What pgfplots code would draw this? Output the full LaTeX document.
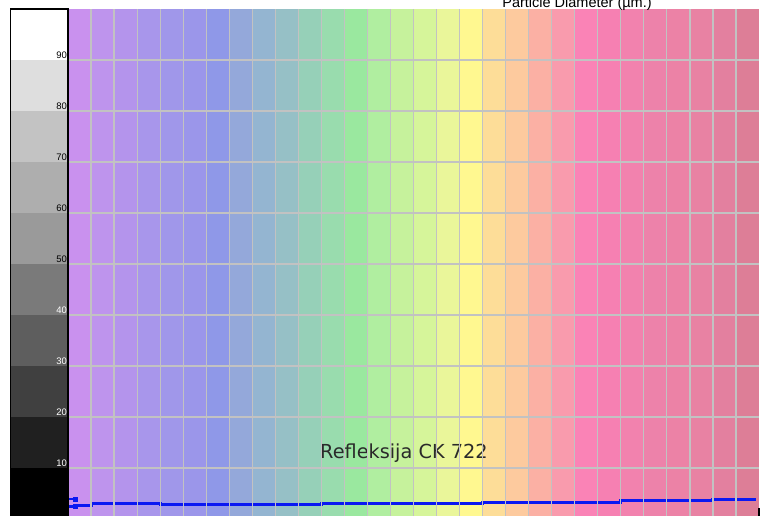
\documentclass[border=0pt]{standalone}
\usepackage{pgfplots}
\pgfplotsset{compat=1.18}
\usepackage{fontspec}
\setmainfont{Liberation Sans}
\newfontfamily\dejavu{DejaVu Sans}
\definecolor{s1}{HTML}{C991EE}
\definecolor{s2}{HTML}{BE94ED}
\definecolor{s3}{HTML}{B494EC}
\definecolor{s4}{HTML}{A896EB}
\definecolor{s5}{HTML}{A097EA}
\definecolor{s6}{HTML}{9B96EA}
\definecolor{s7}{HTML}{8F98E8}
\definecolor{s8}{HTML}{94A8DA}
\definecolor{s9}{HTML}{94B5D1}
\definecolor{s10}{HTML}{96C0C6}
\definecolor{s11}{HTML}{96D0B8}
\definecolor{s12}{HTML}{99DCAE}
\definecolor{s13}{HTML}{9AE89F}
\definecolor{s14}{HTML}{B0EEA0}
\definecolor{s15}{HTML}{C6F29C}
\definecolor{s16}{HTML}{D6F59A}
\definecolor{s17}{HTML}{EAF69A}
\definecolor{s18}{HTML}{FFF890}
\definecolor{s19}{HTML}{FDDD98}
\definecolor{s20}{HTML}{FDCA9E}
\definecolor{s21}{HTML}{FBB0A4}
\definecolor{s22}{HTML}{F99BAD}
\definecolor{s23}{HTML}{FA83B6}
\definecolor{s24}{HTML}{F680B2}
\definecolor{s25}{HTML}{F282AE}
\definecolor{s26}{HTML}{ED82AA}
\definecolor{s27}{HTML}{EC82A6}
\definecolor{s28}{HTML}{E882A3}
\definecolor{s29}{HTML}{E3809F}
\definecolor{s30}{HTML}{DD7E97}
\definecolor{g1}{HTML}{000000}
\definecolor{g2}{HTML}{202020}
\definecolor{g3}{HTML}{404040}
\definecolor{g4}{HTML}{5E5E5E}
\definecolor{g5}{HTML}{7A7A7A}
\definecolor{g6}{HTML}{9A9A9A}
\definecolor{g7}{HTML}{AEAEAE}
\definecolor{g8}{HTML}{C3C3C3}
\definecolor{g9}{HTML}{DEDEDE}
\definecolor{g10}{HTML}{FFFFFF}
\definecolor{gridc}{HTML}{C2C2C2}
\definecolor{lineblue}{HTML}{0A18F2}
\definecolor{txt}{HTML}{2A2A2A}
\begin{document}
\begin{tikzpicture}
% grey scale box
\begin{axis}[at={(10.5pt,-519pt)}, anchor=south west, scale only axis,
  width=57.5pt, height=510pt, xmin=0, xmax=1, ymin=0, ymax=100,
  ticks=none, axis on top, axis line style={black, line width=1.3pt}]
\fill[g1] (axis cs:0,0) rectangle (axis cs:1,10);
\fill[g2] (axis cs:0,10) rectangle (axis cs:1,20);
\fill[g3] (axis cs:0,20) rectangle (axis cs:1,30);
\fill[g4] (axis cs:0,30) rectangle (axis cs:1,40);
\fill[g5] (axis cs:0,40) rectangle (axis cs:1,50);
\fill[g6] (axis cs:0,50) rectangle (axis cs:1,60);
\fill[g7] (axis cs:0,60) rectangle (axis cs:1,70);
\fill[g8] (axis cs:0,70) rectangle (axis cs:1,80);
\fill[g9] (axis cs:0,80) rectangle (axis cs:1,90);
\fill[g10] (axis cs:0,90) rectangle (axis cs:1,100);
\end{axis}
% main plot
\begin{axis}[at={(68pt,-519pt)}, anchor=south west, scale only axis,
  width=691pt, height=510pt, xmin=0, xmax=30, ymin=0, ymax=100,
  axis on top, axis lines*=left, axis line style={black, line width=1.3pt},
  tick align=inside,
  xtick={0,10,20,30}, minor xtick={5,15,25}, xticklabels={},
  major tick length=11pt, minor tick length=6pt,
  x tick style={black, line width=1.1pt},
  extra x ticks={1,2,...,29}, extra x tick labels={},
  extra x tick style={grid=major, major tick length=0pt, tick style={draw=none}},
  ytick={10,20,...,90},
  yticklabels={\textcolor{white}{10},\textcolor{white}{20},\textcolor{white}{30},\textcolor{white}{40},50,60,70,80,90},
  y tick style={draw=none},
  yticklabel style={anchor=south east, inner sep=0.8pt, font=\fontsize{9.5}{9.5}\selectfont},
  ymajorgrids,
  major grid style={gridc, line width=1.2pt},
  clip=false]
\fill[s1] (axis cs:0,0) rectangle (axis cs:1,100);
\fill[s2] (axis cs:1,0) rectangle (axis cs:2,100);
\fill[s3] (axis cs:2,0) rectangle (axis cs:3,100);
\fill[s4] (axis cs:3,0) rectangle (axis cs:4,100);
\fill[s5] (axis cs:4,0) rectangle (axis cs:5,100);
\fill[s6] (axis cs:5,0) rectangle (axis cs:6,100);
\fill[s7] (axis cs:6,0) rectangle (axis cs:7,100);
\fill[s8] (axis cs:7,0) rectangle (axis cs:8,100);
\fill[s9] (axis cs:8,0) rectangle (axis cs:9,100);
\fill[s10] (axis cs:9,0) rectangle (axis cs:10,100);
\fill[s11] (axis cs:10,0) rectangle (axis cs:11,100);
\fill[s12] (axis cs:11,0) rectangle (axis cs:12,100);
\fill[s13] (axis cs:12,0) rectangle (axis cs:13,100);
\fill[s14] (axis cs:13,0) rectangle (axis cs:14,100);
\fill[s15] (axis cs:14,0) rectangle (axis cs:15,100);
\fill[s16] (axis cs:15,0) rectangle (axis cs:16,100);
\fill[s17] (axis cs:16,0) rectangle (axis cs:17,100);
\fill[s18] (axis cs:17,0) rectangle (axis cs:18,100);
\fill[s19] (axis cs:18,0) rectangle (axis cs:19,100);
\fill[s20] (axis cs:19,0) rectangle (axis cs:20,100);
\fill[s21] (axis cs:20,0) rectangle (axis cs:21,100);
\fill[s22] (axis cs:21,0) rectangle (axis cs:22,100);
\fill[s23] (axis cs:22,0) rectangle (axis cs:23,100);
\fill[s24] (axis cs:23,0) rectangle (axis cs:24,100);
\fill[s25] (axis cs:24,0) rectangle (axis cs:25,100);
\fill[s26] (axis cs:25,0) rectangle (axis cs:26,100);
\fill[s27] (axis cs:26,0) rectangle (axis cs:27,100);
\fill[s28] (axis cs:27,0) rectangle (axis cs:28,100);
\fill[s29] (axis cs:28,0) rectangle (axis cs:29,100);
\fill[s30] (axis cs:29,0) rectangle (axis cs:30,100);
% measured curve (step)
\addplot[const plot, lineblue, line width=3pt] coordinates {
  (0.35,2.7) (1,3.0) (4,2.75) (11,3.05) (18,3.2) (24,3.55) (28,3.9) (29.85,3.9)};
\addplot[lineblue, line width=2.2pt, mark=square*, mark size=1.4pt, mark indices={2}] coordinates {(0,3.86) (0.33,3.86)};
\addplot[lineblue, line width=2.2pt, mark=square*, mark size=1.4pt, mark indices={2}] coordinates {(0,2.45) (0.33,2.45)};
\node[anchor=base west, inner sep=0pt, text=txt, font=\dejavu\fontsize{19.3}{20}\selectfont] at (axis cs:10.94,11.88) {Refleksija CK 722};
\node[anchor=base, inner sep=0pt, text=black, font=\fontsize{14.5}{15}\selectfont] at (axis cs:22.1,100.3) {Particle Diameter (µm.)};
\end{axis}
\pgfresetboundingbox
\path[use as bounding box] (0,0) rectangle (761pt,-516pt);
\end{tikzpicture}
\end{document}
